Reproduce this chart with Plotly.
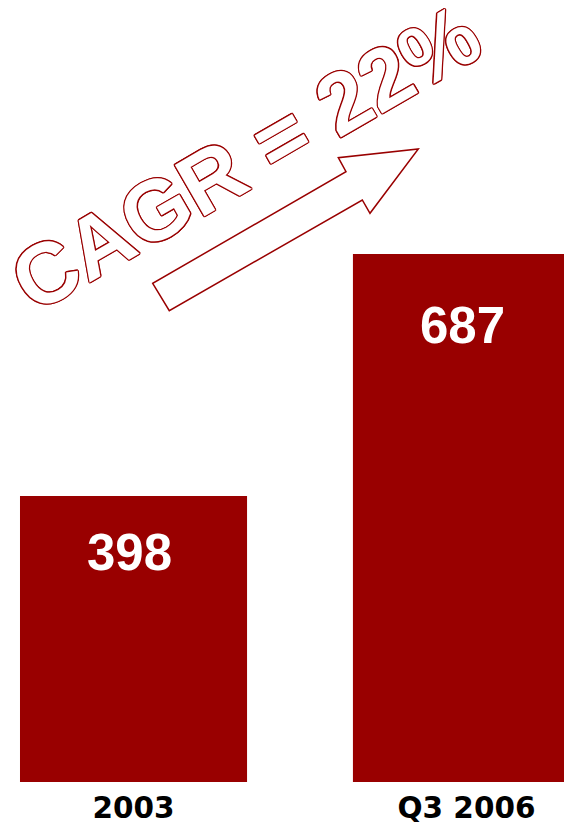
import plotly.graph_objects as go

categories = ["2003", "Q3 2006"]
values = [398, 687]
value_labels = ["398", "687"]
headline = "CAGR = 22%"

W, H = 572, 828
OFF = 8  # page body margin
MT, MB = 0, 54
PH = H - MT - MB

def px(x, y):
    # screen pixel -> paper coordinates
    return (x - OFF) / W, 1 - (y - OFF - MT) / PH

RED = "#990000"
WIDE = "DejaVu Sans, Verdana, sans-serif"
ARIAL = "Liberation Sans, Arial, sans-serif"

fig = go.Figure()
fig.add_trace(go.Bar(
    x=[0, 1], y=values, width=0.682,
    marker=dict(color=RED, line=dict(width=0)),
    hoverinfo="skip",
))

# value labels inside bars
label_shift = [-56, -72]
for i, (v, t) in enumerate(zip(values, value_labels)):
    fig.add_annotation(x=i, y=v, text=t, showarrow=False, xref="x", yref="y",
                       yshift=label_shift[i], xshift=-4, yanchor="middle",
                       font=dict(family=ARIAL, size=51, color="white", weight="bold"))

# outlined arrow
arrow_px = [(152.7, 283.3), (169.3, 310.7), (362.3, 200.0), (370.0, 213.3),
            (418.3, 149.0), (338.3, 157.7), (346.0, 171.7)]
pts = [px(x, y) for x, y in arrow_px]
path = "M " + " L ".join(f"{a:.5f},{b:.5f}" for a, b in pts) + " Z"
fig.add_shape(type="path", path=path, xref="paper", yref="paper",
              line=dict(color=RED, width=1.5), fillcolor="white")

# outlined rotated headline
o = 1.3
shadow = ", ".join(f"{dx}px {dy}px 0 {RED}" for dx, dy in
                   [(o, 0), (-o, 0), (0, o), (0, -o), (1, 1), (-1, -1), (1, -1), (-1, 1)])
cx, cy = px(245, 158)
fig.add_annotation(x=cx, y=cy, xref="paper", yref="paper", text=headline,
                   showarrow=False, textangle=-30, xanchor="center", yanchor="middle",
                   font=dict(family=ARIAL, size=86, color="white",
                             weight="bold", shadow=shadow))

fig.update_layout(
    width=W, height=H,
    margin=dict(l=0, r=0, t=MT, b=MB, pad=0),
    paper_bgcolor="white", plot_bgcolor="white",
    showlegend=False,
    xaxis=dict(range=[-0.377, 1.341], tickvals=[0, 1], ticktext=categories,
               showgrid=False, zeroline=False, showline=False, ticks="",
               ticklabelstandoff=5,
               tickfont=dict(family=WIDE, size=29.5, color="black", weight="bold"),
               fixedrange=True),
    yaxis=dict(range=[56.5, 980.7], visible=False, showgrid=False, zeroline=False, fixedrange=True),
)

fig.write_html("out.html", config={"displayModeBar": False})
